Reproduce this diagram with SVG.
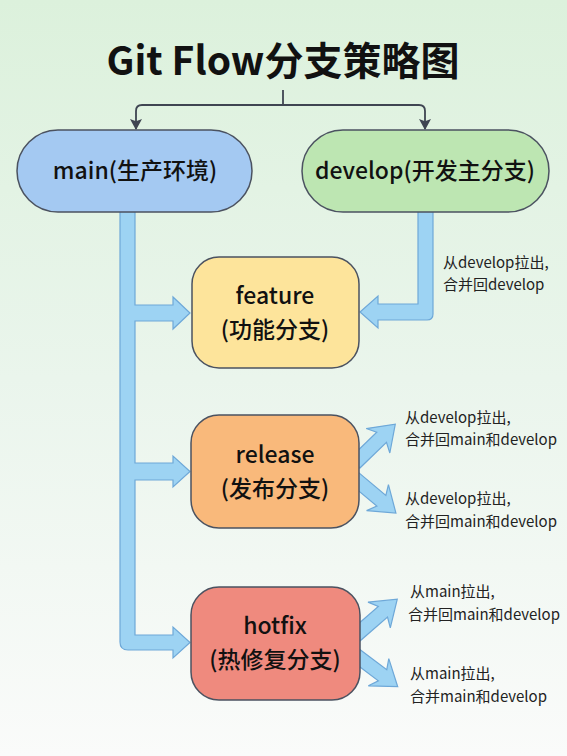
<svg xmlns="http://www.w3.org/2000/svg" width="567" height="756" viewBox="0 0 567 756">
<defs>
<linearGradient id="bg" x1="0" y1="0" x2="0" y2="1">
<stop offset="0" stop-color="#dcf1dc"/>
<stop offset="0.5" stop-color="#eaf5ec"/>
<stop offset="1" stop-color="#fafbfa"/>
</linearGradient>
<marker id="ah" viewBox="0 0 10 10" refX="9" refY="5" markerWidth="11" markerHeight="12" markerUnits="userSpaceOnUse" orient="auto" preserveAspectRatio="none">
<path d="M0,0 L10,5 L0,10 L2,5 Z" fill="#3f4552"/>
</marker>
<path id="darr" d="M0,-7 L37,-7 L32,-17 L56,0 L32,17 L37,7 L0,7 Z"/>
</defs>
<style>
.node{stroke:#4b5260;stroke-width:1.5}
.t{font-family:"Noto Sans CJK SC","Noto Sans",sans-serif;fill:#111;text-anchor:middle}
.nt{font-size:23px;font-weight:500}
.lb{font-family:"Noto Sans CJK SC","Noto Sans",sans-serif;fill:#222;font-size:15px}
.bar{fill:#9dd3f3;stroke:#6ea8d8;stroke-width:1.2;stroke-linejoin:miter}
.thin{fill:none;stroke:#3f4552;stroke-width:1.8}
</style>
<rect width="567" height="756" fill="url(#bg)"/>
<text class="t" x="283" y="75" font-size="39" font-weight="700">Git Flow分支策略图</text>
<g id="connectors">
<path class="thin" d="M283,90 V105"/>
<path class="thin" d="M283,105 H142 Q136,105 136,111 V129" marker-end="url(#ah)"/>
<path class="thin" d="M283,105 H419 Q425,105 425,111 V129" marker-end="url(#ah)"/>
<path class="bar" d="M120,211 L135,211 L135,305 L173,305 L173,297 L190,313 L173,329 L173,321 L135,321 L135,463 L173,463 L173,456 L190,471.5 L173,487 L173,480 L135,480 L135,635 L173,635 L173,627 L190,642.5 L173,658 L173,650 L128,650 Q120,650 120,642 Z"/>
<path class="bar" d="M418,211 L433,211 L433,314 Q433,320 427,320 L378,320 L378,328 L360,312 L378,296 L378,304 L418,304 Z"/>
<use href="#darr" class="bar" transform="translate(355,463) rotate(-44)"/>
<use href="#darr" class="bar" transform="translate(353,477) rotate(40)"/>
<use href="#darr" class="bar" transform="translate(355,636) rotate(-41)"/>
<use href="#darr" class="bar" transform="translate(353,653) rotate(37)"/>
</g>
<g id="main">
<rect class="node" x="17" y="130" width="235" height="82" rx="41" fill="#a4c9f2"/>
<text class="t nt" x="135" y="179">main(生产环境)</text>
</g>
<g id="develop">
<rect class="node" x="302" y="130" width="247" height="82" rx="41" fill="#bde6b2"/>
<text class="t nt" x="425" y="179">develop(开发主分支)</text>
</g>
<g id="feature">
<rect class="node" x="192" y="257" width="167" height="111" rx="27" fill="#fde49b"/>
<text class="t nt" x="275" y="304">feature</text>
<text class="t nt" x="275" y="338">(功能分支)</text>
</g>
<g id="release">
<rect class="node" x="191" y="415" width="168" height="113" rx="28" fill="#f9b97b"/>
<text class="t nt" x="275" y="463">release</text>
<text class="t nt" x="275" y="497">(发布分支)</text>
</g>
<g id="hotfix">
<rect class="node" x="191" y="587" width="169" height="113" rx="28" fill="#ef8a7e"/>
<text class="t nt" x="275" y="634">hotfix</text>
<text class="t nt" x="275" y="668">(热修复分支)</text>
</g>
<g id="labels">
<text class="lb" x="443" y="268">从develop拉出,</text>
<text class="lb" x="443" y="290">合并回develop</text>
<text class="lb" x="405" y="423">从develop拉出,</text>
<text class="lb" x="405" y="445">合并回main和develop</text>
<text class="lb" x="405" y="504">从develop拉出,</text>
<text class="lb" x="405" y="527">合并回main和develop</text>
<text class="lb" x="410" y="597">从main拉出,</text>
<text class="lb" x="408" y="620">合并回main和develop</text>
<text class="lb" x="410" y="679">从main拉出,</text>
<text class="lb" x="410" y="702">合并main和develop</text>
</g>
</svg>
